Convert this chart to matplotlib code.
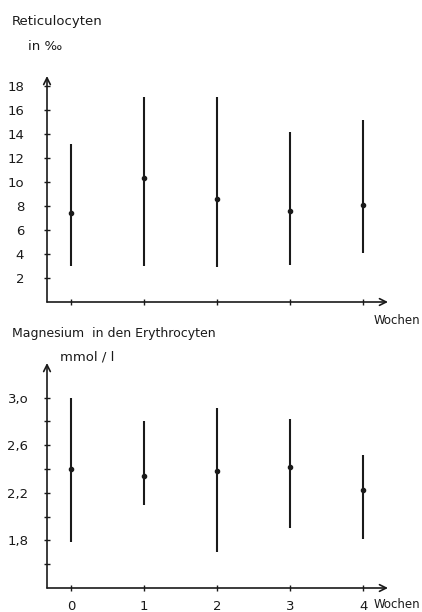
import matplotlib.pyplot as plt

# weeks
weeks = [0, 1, 2, 3, 4]

# Reticulocyten in promille: mean, low, high
ret_mean = [7.4, 10.3, 8.6, 7.6, 8.1]
ret_low = [3.0, 3.0, 2.9, 3.1, 4.1]
ret_high = [13.2, 17.1, 17.1, 14.2, 15.2]

# Magnesium in den Erythrocyten, mmol/l
mg_mean = [2.40, 2.34, 2.38, 2.42, 2.22]
mg_low = [1.79, 2.10, 1.70, 1.90, 1.81]
mg_high = [3.00, 2.80, 2.91, 2.82, 2.52]

ret_ticks = [2, 4, 6, 8, 10, 12, 14, 16, 18]
ret_labels = ['2', '4', '6', '8', '1o', '12', '14', '16', '18']
mg_ticks = [1.8, 2.2, 2.6, 3.0]
mg_labels = ['1,8', '2,2', '2,6', '3,o']
mg_minor = [1.6, 2.0, 2.4, 2.8]

plt.rcParams['font.family'] = ['DejaVu Sans']
plt.rcParams['font.size'] = 9.5
ink = '#1a1a1a'

fig = plt.figure(figsize=(4.22, 6.12), dpi=100)
ax1 = fig.add_axes([47/422, 310/612, 341/422, 226/612])
ax2 = fig.add_axes([47/422, 24/612, 341/422, 225/612])


def draw_axes(ax):
    for s in ax.spines.values():
        s.set_visible(False)
    ax.patch.set_alpha(0)
    ax.annotate('', xy=(1, 0), xytext=(0, 0), xycoords='axes fraction',
                arrowprops=dict(arrowstyle='->', color=ink, lw=1.2,
                                shrinkA=0, shrinkB=0, mutation_scale=12))
    ax.annotate('', xy=(0, 1), xytext=(0, 0), xycoords='axes fraction',
                arrowprops=dict(arrowstyle='->', color=ink, lw=1.2,
                                shrinkA=0, shrinkB=0, mutation_scale=12))
    ax.tick_params(which='both', direction='inout', length=5, width=1,
                   color=ink, labelcolor=ink)


def draw_bars(ax, mean, low, high):
    for w, m, lo, hi in zip(weeks, mean, low, high):
        ax.plot([w, w], [lo, hi], color=ink, lw=1.5, solid_capstyle='butt')
    ax.plot(weeks, mean, 'o', color=ink, ms=3)


# top chart
draw_axes(ax1)
draw_bars(ax1, ret_mean, ret_low, ret_high)
ax1.set_xlim(-0.33, 4.34)
ax1.set_ylim(0, 18.83)
ax1.set_xticks(weeks)
ax1.set_xticklabels([])
ax1.set_yticks(ret_ticks)
ax1.set_yticklabels(ret_labels)
ax1.tick_params(axis='y', pad=14)

# bottom chart
draw_axes(ax2)
draw_bars(ax2, mg_mean, mg_low, mg_high)
ax2.set_xlim(-0.33, 4.34)
ax2.set_ylim(1.4, 3.29)
ax2.set_xticks(weeks)
ax2.set_xticklabels([str(w) for w in weeks])
ax2.set_yticks(mg_ticks)
ax2.set_yticklabels(mg_labels)
ax2.set_yticks(mg_minor, minor=True)
ax2.tick_params(axis='y', pad=11)
ax2.tick_params(axis='x', pad=6)

# texts
fig.text(12/422, 1 - 22/612, 'Reticulocyten', va='center', ha='left', color=ink)
fig.text(28/422, 1 - 47/612, 'in ‰', va='center', ha='left', color=ink)
fig.text(420/422, 1 - 320/612, 'Wochen', va='center', ha='right',
         color=ink, fontsize=8.5)
fig.text(12/422, 1 - 333/612, 'Magnesium  in den Erythrocyten', va='center',
         ha='left', color=ink, fontsize=9)
fig.text(60/422, 1 - 357/612, 'mmol / l', va='center', ha='left', color=ink)
fig.text(420/422, 1 - 605/612, 'Wochen', va='center', ha='right',
         color=ink, fontsize=8.5)

fig.savefig('out.png', dpi=100)
